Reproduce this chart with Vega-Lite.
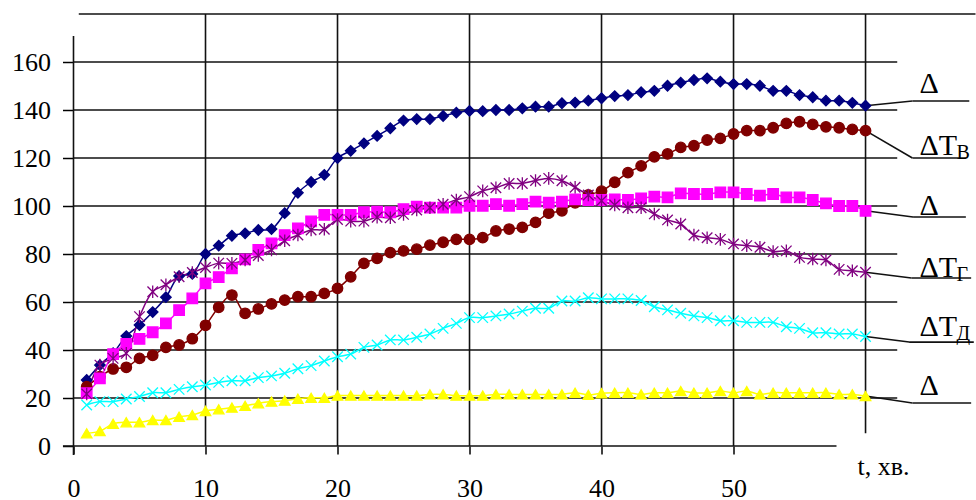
{
"$schema":"https://vega.github.io/schema/vega-lite/v6.json",
"width":902,"height":432,
"autosize":{"type":"none"},
"padding":{"left":73.5,"top":14,"right":0,"bottom":54},
"background":"#ffffff",
"config":{"view":{"stroke":null},"font":"Liberation Serif","axis":{"labelFont":"Liberation Serif","titleFont":"Liberation Serif"},"text":{"font":"Liberation Serif"}},
"datasets":{
"series":[
{"x":1,"y":27.5,"s":"ΔT1"},{"x":2,"y":33.7,"s":"ΔT1"},{"x":3,"y":38.7,"s":"ΔT1"},{"x":4,"y":45.8,"s":"ΔT1"},{"x":5,"y":50.4,"s":"ΔT1"},{"x":6,"y":55.8,"s":"ΔT1"},{"x":7,"y":62,"s":"ΔT1"},{"x":8,"y":70.8,"s":"ΔT1"},{"x":9,"y":71.7,"s":"ΔT1"},{"x":10,"y":80,"s":"ΔT1"},
{"x":11,"y":83.5,"s":"ΔT1"},{"x":12,"y":87.6,"s":"ΔT1"},{"x":13,"y":88.6,"s":"ΔT1"},{"x":14,"y":90,"s":"ΔT1"},{"x":15,"y":90.4,"s":"ΔT1"},{"x":16,"y":97,"s":"ΔT1"},{"x":17,"y":105.5,"s":"ΔT1"},{"x":18,"y":110,"s":"ΔT1"},{"x":19,"y":113,"s":"ΔT1"},{"x":20,"y":120,"s":"ΔT1"},
{"x":21,"y":123,"s":"ΔT1"},{"x":22,"y":126.1,"s":"ΔT1"},{"x":23,"y":129.2,"s":"ΔT1"},{"x":24,"y":132.4,"s":"ΔT1"},{"x":25,"y":135.6,"s":"ΔT1"},{"x":26,"y":136.2,"s":"ΔT1"},{"x":27,"y":136.2,"s":"ΔT1"},{"x":28,"y":137.5,"s":"ΔT1"},{"x":29,"y":138.9,"s":"ΔT1"},{"x":30,"y":139.6,"s":"ΔT1"},
{"x":31,"y":139.5,"s":"ΔT1"},{"x":32,"y":140,"s":"ΔT1"},{"x":33,"y":140,"s":"ΔT1"},{"x":34,"y":140.7,"s":"ΔT1"},{"x":35,"y":141.4,"s":"ΔT1"},{"x":36,"y":141.4,"s":"ΔT1"},{"x":37,"y":142.8,"s":"ΔT1"},{"x":38,"y":143.1,"s":"ΔT1"},{"x":39,"y":143.9,"s":"ΔT1"},{"x":40,"y":144.9,"s":"ΔT1"},
{"x":41,"y":145.8,"s":"ΔT1"},{"x":42,"y":146.2,"s":"ΔT1"},{"x":43,"y":147.4,"s":"ΔT1"},{"x":44,"y":148,"s":"ΔT1"},{"x":45,"y":150.1,"s":"ΔT1"},{"x":46,"y":151.4,"s":"ΔT1"},{"x":47,"y":152.5,"s":"ΔT1"},{"x":48,"y":153.2,"s":"ΔT1"},{"x":49,"y":151.8,"s":"ΔT1"},{"x":50,"y":150.8,"s":"ΔT1"},
{"x":51,"y":150.8,"s":"ΔT1"},{"x":52,"y":150.1,"s":"ΔT1"},{"x":53,"y":148,"s":"ΔT1"},{"x":54,"y":148,"s":"ΔT1"},{"x":55,"y":146.2,"s":"ΔT1"},{"x":56,"y":145.3,"s":"ΔT1"},{"x":57,"y":143.9,"s":"ΔT1"},{"x":58,"y":143.9,"s":"ΔT1"},{"x":59,"y":143,"s":"ΔT1"},{"x":60,"y":141.8,"s":"ΔT1"},

{"x":1,"y":24.7,"s":"ΔTв"},{"x":2,"y":28.9,"s":"ΔTв"},{"x":3,"y":32.1,"s":"ΔTв"},{"x":4,"y":32.8,"s":"ΔTв"},{"x":5,"y":36.5,"s":"ΔTв"},{"x":6,"y":37.8,"s":"ΔTв"},{"x":7,"y":41.1,"s":"ΔTв"},{"x":8,"y":42.1,"s":"ΔTв"},{"x":9,"y":44.7,"s":"ΔTв"},{"x":10,"y":50.3,"s":"ΔTв"},
{"x":11,"y":57.8,"s":"ΔTв"},{"x":12,"y":62.9,"s":"ΔTв"},{"x":13,"y":55.3,"s":"ΔTв"},{"x":14,"y":57.1,"s":"ΔTв"},{"x":15,"y":59.2,"s":"ΔTв"},{"x":16,"y":60.8,"s":"ΔTв"},{"x":17,"y":62.2,"s":"ΔTв"},{"x":18,"y":62.2,"s":"ΔTв"},{"x":19,"y":63.6,"s":"ΔTв"},{"x":20,"y":65.7,"s":"ΔTв"},
{"x":21,"y":70.5,"s":"ΔTв"},{"x":22,"y":76.1,"s":"ΔTв"},{"x":23,"y":78.2,"s":"ΔTв"},{"x":24,"y":80.6,"s":"ΔTв"},{"x":25,"y":81.3,"s":"ΔTв"},{"x":26,"y":82,"s":"ΔTв"},{"x":27,"y":83.7,"s":"ΔTв"},{"x":28,"y":84.9,"s":"ΔTв"},{"x":29,"y":86.1,"s":"ΔTв"},{"x":30,"y":86.1,"s":"ΔTв"},
{"x":31,"y":86.8,"s":"ΔTв"},{"x":32,"y":89.6,"s":"ΔTв"},{"x":33,"y":90.4,"s":"ΔTв"},{"x":34,"y":91.1,"s":"ΔTв"},{"x":35,"y":93.2,"s":"ΔTв"},{"x":36,"y":97,"s":"ΔTв"},{"x":37,"y":98,"s":"ΔTв"},{"x":38,"y":101.3,"s":"ΔTв"},{"x":39,"y":104.6,"s":"ΔTв"},{"x":40,"y":106.2,"s":"ΔTв"},
{"x":41,"y":109.9,"s":"ΔTв"},{"x":42,"y":113.9,"s":"ΔTв"},{"x":43,"y":116.7,"s":"ΔTв"},{"x":44,"y":120.5,"s":"ΔTв"},{"x":45,"y":121.7,"s":"ΔTв"},{"x":46,"y":124.4,"s":"ΔTв"},{"x":47,"y":125.1,"s":"ΔTв"},{"x":48,"y":127.5,"s":"ΔTв"},{"x":49,"y":128.2,"s":"ΔTв"},{"x":50,"y":130,"s":"ΔTв"},
{"x":51,"y":131.4,"s":"ΔTв"},{"x":52,"y":131.4,"s":"ΔTв"},{"x":53,"y":132.6,"s":"ΔTв"},{"x":54,"y":134.4,"s":"ΔTв"},{"x":55,"y":135.1,"s":"ΔTв"},{"x":56,"y":134,"s":"ΔTв"},{"x":57,"y":133,"s":"ΔTв"},{"x":58,"y":132.6,"s":"ΔTв"},{"x":59,"y":131.9,"s":"ΔTв"},{"x":60,"y":131.4,"s":"ΔTв"},

{"x":1,"y":22,"s":"ΔT2"},{"x":2,"y":28.2,"s":"ΔT2"},{"x":3,"y":38.3,"s":"ΔT2"},{"x":4,"y":42.5,"s":"ΔT2"},{"x":5,"y":44.6,"s":"ΔT2"},{"x":6,"y":47.4,"s":"ΔT2"},{"x":7,"y":51.1,"s":"ΔT2"},{"x":8,"y":56.6,"s":"ΔT2"},{"x":9,"y":61.5,"s":"ΔT2"},{"x":10,"y":67.8,"s":"ΔT2"},
{"x":11,"y":70.4,"s":"ΔT2"},{"x":12,"y":74,"s":"ΔT2"},{"x":13,"y":77.8,"s":"ΔT2"},{"x":14,"y":81.7,"s":"ΔT2"},{"x":15,"y":84.4,"s":"ΔT2"},{"x":16,"y":87.9,"s":"ΔT2"},{"x":17,"y":90.7,"s":"ΔT2"},{"x":18,"y":93.6,"s":"ΔT2"},{"x":19,"y":96.3,"s":"ΔT2"},{"x":20,"y":96.3,"s":"ΔT2"},
{"x":21,"y":96.3,"s":"ΔT2"},{"x":22,"y":97.4,"s":"ΔT2"},{"x":23,"y":97.6,"s":"ΔT2"},{"x":24,"y":97.4,"s":"ΔT2"},{"x":25,"y":98.7,"s":"ΔT2"},{"x":26,"y":99.7,"s":"ΔT2"},{"x":27,"y":99.3,"s":"ΔT2"},{"x":28,"y":99.3,"s":"ΔT2"},{"x":29,"y":99.3,"s":"ΔT2"},{"x":30,"y":100.1,"s":"ΔT2"},
{"x":31,"y":100.1,"s":"ΔT2"},{"x":32,"y":100.8,"s":"ΔT2"},{"x":33,"y":100.1,"s":"ΔT2"},{"x":34,"y":100.8,"s":"ΔT2"},{"x":35,"y":101.8,"s":"ΔT2"},{"x":36,"y":101.4,"s":"ΔT2"},{"x":37,"y":101.8,"s":"ΔT2"},{"x":38,"y":102.8,"s":"ΔT2"},{"x":39,"y":102.5,"s":"ΔT2"},{"x":40,"y":102.5,"s":"ΔT2"},
{"x":41,"y":102.8,"s":"ΔT2"},{"x":42,"y":102.5,"s":"ΔT2"},{"x":43,"y":103.2,"s":"ΔT2"},{"x":44,"y":103.9,"s":"ΔT2"},{"x":45,"y":103.6,"s":"ΔT2"},{"x":46,"y":105.3,"s":"ΔT2"},{"x":47,"y":105,"s":"ΔT2"},{"x":48,"y":105,"s":"ΔT2"},{"x":49,"y":105.7,"s":"ΔT2"},{"x":50,"y":105.7,"s":"ΔT2"},
{"x":51,"y":105,"s":"ΔT2"},{"x":52,"y":104.3,"s":"ΔT2"},{"x":53,"y":105,"s":"ΔT2"},{"x":54,"y":103.6,"s":"ΔT2"},{"x":55,"y":103.6,"s":"ΔT2"},{"x":56,"y":102.5,"s":"ΔT2"},{"x":57,"y":101.1,"s":"ΔT2"},{"x":58,"y":100,"s":"ΔT2"},{"x":59,"y":100,"s":"ΔT2"},{"x":60,"y":98,"s":"ΔT2"},

{"x":1,"y":21.7,"s":"ΔTг"},{"x":2,"y":33.7,"s":"ΔTг"},{"x":3,"y":36.5,"s":"ΔTг"},{"x":4,"y":38.6,"s":"ΔTг"},{"x":5,"y":53.9,"s":"ΔTг"},{"x":6,"y":64.3,"s":"ΔTг"},{"x":7,"y":67.2,"s":"ΔTг"},{"x":8,"y":70.5,"s":"ΔTг"},{"x":9,"y":72.3,"s":"ΔTг"},{"x":10,"y":74.4,"s":"ΔTг"},
{"x":11,"y":76.2,"s":"ΔTг"},{"x":12,"y":76.1,"s":"ΔTг"},{"x":13,"y":77.5,"s":"ΔTг"},{"x":14,"y":79.4,"s":"ΔTг"},{"x":15,"y":81.7,"s":"ΔTг"},{"x":16,"y":85.5,"s":"ΔTг"},{"x":17,"y":87.9,"s":"ΔTг"},{"x":18,"y":90,"s":"ΔTг"},{"x":19,"y":90.3,"s":"ΔTг"},{"x":20,"y":94.4,"s":"ΔTг"},
{"x":21,"y":93.7,"s":"ΔTг"},{"x":22,"y":93.7,"s":"ΔTг"},{"x":23,"y":95.3,"s":"ΔTг"},{"x":24,"y":95.1,"s":"ΔTг"},{"x":25,"y":96.5,"s":"ΔTг"},{"x":26,"y":98.3,"s":"ΔTг"},{"x":27,"y":99.3,"s":"ΔTг"},{"x":28,"y":100.7,"s":"ΔTг"},{"x":29,"y":102.5,"s":"ΔTг"},{"x":30,"y":103.9,"s":"ΔTг"},
{"x":31,"y":106.3,"s":"ΔTг"},{"x":32,"y":107.6,"s":"ΔTг"},{"x":33,"y":109.4,"s":"ΔTг"},{"x":34,"y":109.4,"s":"ΔTг"},{"x":35,"y":110.6,"s":"ΔTг"},{"x":36,"y":111.5,"s":"ΔTг"},{"x":37,"y":110.5,"s":"ΔTг"},{"x":38,"y":107.8,"s":"ΔTг"},{"x":39,"y":104.6,"s":"ΔTг"},{"x":40,"y":102.2,"s":"ΔTг"},
{"x":41,"y":100.4,"s":"ΔTг"},{"x":42,"y":99.3,"s":"ΔTг"},{"x":43,"y":99.3,"s":"ΔTг"},{"x":44,"y":96.7,"s":"ΔTг"},{"x":45,"y":94.2,"s":"ΔTг"},{"x":46,"y":92.5,"s":"ΔTг"},{"x":47,"y":87.9,"s":"ΔTг"},{"x":48,"y":86.8,"s":"ΔTг"},{"x":49,"y":86.1,"s":"ΔTг"},{"x":50,"y":84.2,"s":"ΔTг"},
{"x":51,"y":83.5,"s":"ΔTг"},{"x":52,"y":82.8,"s":"ΔTг"},{"x":53,"y":81,"s":"ΔTг"},{"x":54,"y":81.3,"s":"ΔTг"},{"x":55,"y":78.6,"s":"ΔTг"},{"x":56,"y":77.9,"s":"ΔTг"},{"x":57,"y":77.5,"s":"ΔTг"},{"x":58,"y":73.6,"s":"ΔTг"},{"x":59,"y":73,"s":"ΔTг"},{"x":60,"y":72.4,"s":"ΔTг"},

{"x":1,"y":17.1,"s":"ΔTд"},{"x":2,"y":18.5,"s":"ΔTд"},{"x":3,"y":18.5,"s":"ΔTд"},{"x":4,"y":19.6,"s":"ΔTд"},{"x":5,"y":20.6,"s":"ΔTд"},{"x":6,"y":22.2,"s":"ΔTд"},{"x":7,"y":22.2,"s":"ΔTд"},{"x":8,"y":23.6,"s":"ΔTд"},{"x":9,"y":24.7,"s":"ΔTд"},{"x":10,"y":25.4,"s":"ΔTд"},
{"x":11,"y":26.5,"s":"ΔTд"},{"x":12,"y":27.2,"s":"ΔTд"},{"x":13,"y":27.2,"s":"ΔTд"},{"x":14,"y":28.5,"s":"ΔTд"},{"x":15,"y":29.2,"s":"ΔTд"},{"x":16,"y":30.3,"s":"ΔTд"},{"x":17,"y":32.2,"s":"ΔTд"},{"x":18,"y":33.5,"s":"ΔTд"},{"x":19,"y":35.4,"s":"ΔTд"},{"x":20,"y":37.2,"s":"ΔTд"},
{"x":21,"y":38.3,"s":"ΔTд"},{"x":22,"y":41.1,"s":"ΔTд"},{"x":23,"y":42.1,"s":"ΔTд"},{"x":24,"y":44.2,"s":"ΔTд"},{"x":25,"y":44.2,"s":"ΔTд"},{"x":26,"y":45.3,"s":"ΔTд"},{"x":27,"y":46.7,"s":"ΔTд"},{"x":28,"y":49,"s":"ΔTд"},{"x":29,"y":51.1,"s":"ΔTд"},{"x":30,"y":53.5,"s":"ΔTд"},
{"x":31,"y":53.5,"s":"ΔTд"},{"x":32,"y":54.2,"s":"ΔTд"},{"x":33,"y":55,"s":"ΔTд"},{"x":34,"y":56.2,"s":"ΔTд"},{"x":35,"y":57.4,"s":"ΔTд"},{"x":36,"y":57.4,"s":"ΔTд"},{"x":37,"y":60.4,"s":"ΔTд"},{"x":38,"y":60.4,"s":"ΔTд"},{"x":39,"y":61.8,"s":"ΔTд"},{"x":40,"y":61.3,"s":"ΔTд"},
{"x":41,"y":61.3,"s":"ΔTд"},{"x":42,"y":61.3,"s":"ΔTд"},{"x":43,"y":60.6,"s":"ΔTд"},{"x":44,"y":58,"s":"ΔTд"},{"x":45,"y":56.7,"s":"ΔTд"},{"x":46,"y":55.3,"s":"ΔTд"},{"x":47,"y":54.2,"s":"ΔTд"},{"x":48,"y":53.5,"s":"ΔTд"},{"x":49,"y":52.2,"s":"ΔTд"},{"x":50,"y":52.2,"s":"ΔTд"},
{"x":51,"y":51.5,"s":"ΔTд"},{"x":52,"y":51.5,"s":"ΔTд"},{"x":53,"y":51.5,"s":"ΔTд"},{"x":54,"y":49.7,"s":"ΔTд"},{"x":55,"y":49,"s":"ΔTд"},{"x":56,"y":47.2,"s":"ΔTд"},{"x":57,"y":47.2,"s":"ΔTд"},{"x":58,"y":46.7,"s":"ΔTд"},{"x":59,"y":46.7,"s":"ΔTд"},{"x":60,"y":45.6,"s":"ΔTд"},

{"x":1,"y":5.3,"s":"ΔT3"},{"x":2,"y":6.2,"s":"ΔT3"},{"x":3,"y":9.2,"s":"ΔT3"},{"x":4,"y":9.9,"s":"ΔT3"},{"x":5,"y":9.9,"s":"ΔT3"},{"x":6,"y":10.8,"s":"ΔT3"},{"x":7,"y":10.8,"s":"ΔT3"},{"x":8,"y":12.2,"s":"ΔT3"},{"x":9,"y":12.9,"s":"ΔT3"},{"x":10,"y":14.6,"s":"ΔT3"},
{"x":11,"y":15.3,"s":"ΔT3"},{"x":12,"y":16,"s":"ΔT3"},{"x":13,"y":16.7,"s":"ΔT3"},{"x":14,"y":17.8,"s":"ΔT3"},{"x":15,"y":18.5,"s":"ΔT3"},{"x":16,"y":18.9,"s":"ΔT3"},{"x":17,"y":19.7,"s":"ΔT3"},{"x":18,"y":20.1,"s":"ΔT3"},{"x":19,"y":20.1,"s":"ΔT3"},{"x":20,"y":21,"s":"ΔT3"},
{"x":21,"y":21,"s":"ΔT3"},{"x":22,"y":21,"s":"ΔT3"},{"x":23,"y":21,"s":"ΔT3"},{"x":24,"y":21,"s":"ΔT3"},{"x":25,"y":21,"s":"ΔT3"},{"x":26,"y":21,"s":"ΔT3"},{"x":27,"y":21.5,"s":"ΔT3"},{"x":28,"y":21.5,"s":"ΔT3"},{"x":29,"y":21,"s":"ΔT3"},{"x":30,"y":21,"s":"ΔT3"},
{"x":31,"y":21,"s":"ΔT3"},{"x":32,"y":21.5,"s":"ΔT3"},{"x":33,"y":21.5,"s":"ΔT3"},{"x":34,"y":21.5,"s":"ΔT3"},{"x":35,"y":21.5,"s":"ΔT3"},{"x":36,"y":21.5,"s":"ΔT3"},{"x":37,"y":21.5,"s":"ΔT3"},{"x":38,"y":22.2,"s":"ΔT3"},{"x":39,"y":21.3,"s":"ΔT3"},{"x":40,"y":22,"s":"ΔT3"},
{"x":41,"y":22.2,"s":"ΔT3"},{"x":42,"y":22.2,"s":"ΔT3"},{"x":43,"y":21.5,"s":"ΔT3"},{"x":44,"y":22.2,"s":"ΔT3"},{"x":45,"y":22.2,"s":"ΔT3"},{"x":46,"y":22.9,"s":"ΔT3"},{"x":47,"y":22.2,"s":"ΔT3"},{"x":48,"y":22.2,"s":"ΔT3"},{"x":49,"y":22.9,"s":"ΔT3"},{"x":50,"y":22.2,"s":"ΔT3"},
{"x":51,"y":22.9,"s":"ΔT3"},{"x":52,"y":21.5,"s":"ΔT3"},{"x":53,"y":22.2,"s":"ΔT3"},{"x":54,"y":22.2,"s":"ΔT3"},{"x":55,"y":22.2,"s":"ΔT3"},{"x":56,"y":22.2,"s":"ΔT3"},{"x":57,"y":22.2,"s":"ΔT3"},{"x":58,"y":21.5,"s":"ΔT3"},{"x":59,"y":21.5,"s":"ΔT3"},{"x":60,"y":20.8,"s":"ΔT3"}
],
"rules":[
{"x":0,"x2":0,"y":-3.75,"y2":170.8},
{"x":-0.8,"x2":57.8,"y":0,"y2":0},
{"x":0,"x2":62.4,"y":20,"y2":20},{"x":0,"x2":62.4,"y":40,"y2":40},{"x":0,"x2":62.4,"y":60,"y2":60},{"x":0,"x2":62.4,"y":80,"y2":80},
{"x":0,"x2":62.4,"y":100,"y2":100},{"x":0,"x2":62.4,"y":120,"y2":120},{"x":0,"x2":62.4,"y":140,"y2":140},{"x":0,"x2":62.4,"y":160,"y2":160},
{"x":0.4,"x2":68.33,"y":180,"y2":180},
{"x":10,"x2":10,"y":0,"y2":180},{"x":20,"x2":20,"y":0,"y2":180},{"x":30,"x2":30,"y":0,"y2":180},{"x":40,"x2":40,"y":0,"y2":180},{"x":50,"x2":50,"y":0,"y2":180},
{"x":60,"x2":60,"y":5.3,"y2":180},
{"x":60,"x2":63.55,"y":141.8,"y2":143.75},{"x":63.55,"x2":67.86,"y":143.75,"y2":143.75},
{"x":60,"x2":63.55,"y":131.4,"y2":120},{"x":63.55,"x2":67.6,"y":120,"y2":120},
{"x":60,"x2":63.6,"y":98,"y2":95.4},{"x":63.6,"x2":67.6,"y":95.4,"y2":95.4},
{"x":60,"x2":63.47,"y":72.4,"y2":70},{"x":63.47,"x2":68.0,"y":70,"y2":70},
{"x":60,"x2":63.3,"y":45.6,"y2":43.3},{"x":63.3,"x2":68.2,"y":43.3,"y2":43.3},
{"x":60,"x2":63.55,"y":20.8,"y2":17.9},{"x":63.55,"x2":68.0,"y":17.9,"y2":17.9}
],
"labels":[
{"x":64.08,"y":147.1,"m":"Δ","sub":""},
{"x":64.08,"y":121.25,"m":"ΔT","sub":"В"},
{"x":64.08,"y":96.25,"m":"Δ","sub":""},
{"x":64.08,"y":70.4,"m":"ΔT","sub":"Г"},
{"x":64.08,"y":45.8,"m":"ΔT","sub":"Д"},
{"x":64.08,"y":21.25,"m":"Δ","sub":""}
],
"xtitle":[{"x":59.39,"y":-12.1,"m":"t, хв."}]
},
"encoding":{
"x":{"field":"x","type":"quantitative","scale":{"domain":[0,68.33],"nice":false,"zero":false},
 "axis":{"values":[0,10,20,30,40,50],"grid":false,"domain":false,"ticks":true,"tickSize":8,"tickColor":"#000","tickWidth":1.5,"labelFont":"Liberation Serif","labelFontSize":26,"labelColor":"#000","labelPadding":21,"labelFlush":false,"labelOverlap":false,"title":null}},
"y":{"field":"y","type":"quantitative","scale":{"domain":[0,180],"nice":false,"zero":false},
 "axis":{"values":[0,20,40,60,80,100,120,140,160],"grid":false,"domain":false,"ticks":true,"tickSize":11,"tickColor":"#000","tickWidth":1.5,"labelFont":"Liberation Serif","labelFontSize":26,"labelColor":"#000","labelPadding":12,"labelFlush":false,"labelOverlap":false,"title":null}}
},
"layer":[
{"data":{"name":"rules"},"mark":{"type":"rule","color":"#111111","strokeWidth":1.6},
 "encoding":{"x2":{"field":"x2"},"y2":{"field":"y2"}}},
{"data":{"name":"series"},"mark":{"type":"line","interpolate":"catmull-rom","strokeWidth":1.5},
 "encoding":{"color":{"field":"s","type":"nominal","scale":{"domain":["ΔT3","ΔTд","ΔTг","ΔT2","ΔTв","ΔT1"],"range":["#FFFF00","#00FFFF","#800080","#FF00FF","#800000","#000080"]},"legend":null}}},
{"data":{"name":"series"},"mark":{"type":"point","filled":true,"size":110,"strokeWidth":1.3,"opacity":1},
 "encoding":{
  "color":{"field":"s","type":"nominal","scale":{"domain":["ΔT3","ΔTд","ΔTг","ΔT2","ΔTв","ΔT1"],"range":["#FFFF00","#00FFFF","#800080","#FF00FF","#800000","#000080"]},"legend":null},
  "stroke":{"field":"s","type":"nominal","scale":{"domain":["ΔT3","ΔTд","ΔTг","ΔT2","ΔTв","ΔT1"],"range":["#FFFF00","#00FFFF","#800080","#FF00FF","#800000","#000080"]},"legend":null},
  "shape":{"field":"s","type":"nominal","scale":{"domain":["ΔT3","ΔTд","ΔTг","ΔT2","ΔTв","ΔT1"],"range":["triangle-up","M-1,-1L1,1M-1,1L1,-1","M-1,-1L1,1M-1,1L1,-1M0,-1.2L0,1.2","square","circle","diamond"]},"legend":null}}},
{"data":{"name":"labels"},"mark":{"type":"text","align":"left","baseline":"alphabetic","font":"Liberation Serif","fontSize":30,"color":"#000"},
 "encoding":{"text":{"field":"m"}}},
{"data":{"name":"labels"},"mark":{"type":"text","align":"left","baseline":"alphabetic","font":"Liberation Serif","fontSize":20,"color":"#000","dx":37,"dy":4},
 "encoding":{"text":{"field":"sub"}}},
{"data":{"name":"xtitle"},"mark":{"type":"text","align":"left","baseline":"alphabetic","font":"Liberation Serif","fontSize":26,"color":"#000"},
 "encoding":{"text":{"field":"m"}}}
]
}
